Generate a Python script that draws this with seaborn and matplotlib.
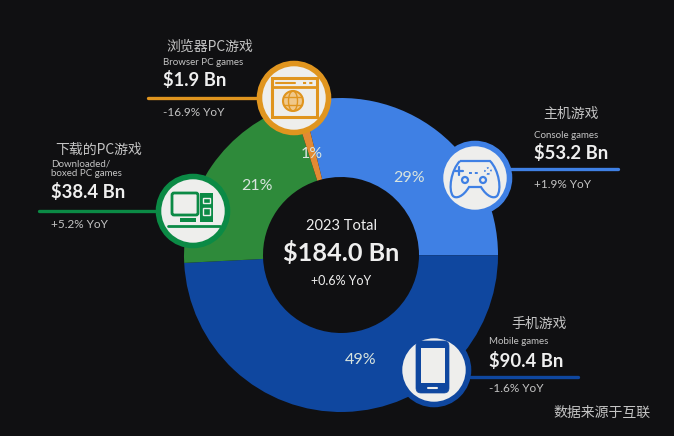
import matplotlib
matplotlib.use('Agg')
import matplotlib.pyplot as plt
from matplotlib.patches import Circle, Rectangle, FancyBboxPatch, Ellipse, PathPatch
from matplotlib.path import Path
import seaborn as sns

# Données du graphique
segments_en = ['Console games', 'Mobile games', 'Downloaded/\nboxed PC games', 'Browser PC games']
segments_zh = ['主机游戏', '手机游戏', '下载的PC游戏', '浏览器PC游戏']
revenus = [53.2, 90.4, 38.4, 1.9]
revenus_txt = ['$53.2 Bn', '$90.4 Bn', '$38.4 Bn', '$1.9 Bn']
yoy_txt = ['+1.9% YoY', '-1.6% YoY', '+5.2% YoY', '-16.9% YoY']
parts_txt = ['29%', '49%', '21%', '1%']
total_titre = '2023 Total'
total_txt = '$184.0 Bn'
total_yoy = '+0.6% YoY'
source_txt = '数据来源于互联'
couleurs = ['#3f80e4', '#0f479f', '#2e8a3a', '#e38a33']
couleurs_icone = ['#3f80e4', '#0f479f', '#0b8a45', '#e0951f']

FOND = '#101012'
BLANC = '#efefef'
GRIS = '#c4c4c4'
ICONE = '#eeeeec'

sns.set_theme(style='dark', rc={'figure.facecolor': FOND, 'axes.facecolor': FOND})
plt.rcParams['font.family'] = ['Lato', 'Noto Sans CJK SC', 'DejaVu Sans']

fig = plt.figure(figsize=(6.74, 4.36), dpi=100)
ax = fig.add_axes([0, 0, 1, 1])


def Y(y):
    # coordonnées image -> axes
    return 436 - y


# ----------------------- Donut ------------------------
ax.pie(revenus, colors=couleurs, startangle=104, counterclock=False,
       center=(341, Y(255)), radius=157, frame=True,
       wedgeprops={'width': 79, 'linewidth': 0})
ax.set_xlim(0, 674)
ax.set_ylim(0, 436)
ax.set_aspect('equal')
ax.set_xticks([])
ax.set_yticks([])
for s in ax.spines.values():
    s.set_visible(False)

# Pourcentages sur l'anneau
pos_parts = [(409, 178), (361, 360), (257, 186), (312, 154)]
for txt, (x, y) in zip(parts_txt, pos_parts):
    ax.text(x, Y(y), txt, color='#d8e4de', fontsize=11.5, ha='center', va='center')

# Centre
ax.text(341, Y(226), total_titre, color=BLANC, fontsize=10.5, ha='center', va='center')
ax.text(341, Y(253), total_txt, color=BLANC, fontsize=18.2, fontweight='bold', ha='center', va='center')
ax.text(341, Y(281), total_yoy, color=BLANC, fontsize=9, ha='center', va='center')

# ----------------------- Traits de rappel ------------------------
traits = [(508, 618, 169), (470, 578, 377), (39, 158, 211), (148, 260, 98)]
for (x0, x1, y), c in zip(traits, couleurs_icone):
    ax.plot([x0, x1], [Y(y), Y(y)], color=c, lw=2.4, solid_capstyle='round', zorder=2)

# ----------------------- Cercles des icônes ------------------------
centres = [(475, 178), (434, 370), (193, 211), (294, 98)]
for (x, y), c in zip(centres, couleurs_icone):
    ax.add_patch(Circle((x, Y(y)), 34.5, fc=ICONE, ec=c, lw=4, zorder=3))

# Manette
c = couleurs_icone[0]
M, L, C = Path.MOVETO, Path.LINETO, Path.CURVE4
pts = [(460, 161), (490, 161), (499, 170), (502, 190), (497, 196), (494, 199), (487, 197), (481, 187),
       (469, 187), (463, 197), (456, 199), (453, 196), (448, 190), (451, 170), (460, 161)]
codes = [M, L, C, C, C, C, C, C, L, C, C, C, C, C, C]
ax.add_patch(PathPatch(Path([(x, Y(y)) for x, y in pts], codes), fc='none', ec=c, lw=1.6, zorder=5))
ax.add_patch(Circle((465, Y(180)), 3, fc='none', ec=c, lw=1.6, zorder=5))
ax.add_patch(Circle((483, Y(180)), 3, fc='none', ec=c, lw=1.6, zorder=5))
ax.plot([455, 463], [Y(171), Y(171)], color=c, lw=1.6, zorder=5)
ax.plot([459, 459], [Y(167), Y(175)], color=c, lw=1.6, zorder=5)
ax.plot([469, 479], [Y(173), Y(173)], color=c, lw=1.4, ls=(0, (1.5, 1.5)), zorder=5)
ax.add_patch(Circle((488, Y(171)), 3, fc='none', ec=c, lw=1.2, ls=':', zorder=5))

# Téléphone
c = couleurs_icone[1]
ax.add_patch(FancyBboxPatch((416, Y(393)), 33, 52, boxstyle='round,pad=0,rounding_size=5',
                            fc=c, ec=c, lw=0.5, zorder=4))
ax.add_patch(Rectangle((421, Y(383)), 24, 35, fc=ICONE, ec='none', zorder=5))
ax.plot([428, 437], [Y(388), Y(388)], color=ICONE, lw=1.5, zorder=5)

# Ordinateur
c = couleurs_icone[2]
ax.add_patch(FancyBboxPatch((172, Y(215)), 26, 22, boxstyle='round,pad=0,rounding_size=2',
                            fc='none', ec=c, lw=2, zorder=4))
ax.add_patch(Rectangle((200, Y(222)), 13, 29, fc=c, ec='none', zorder=4))
ax.add_patch(Rectangle((203, Y(203)), 7, 5, fc='none', ec=ICONE, lw=1, zorder=5))
ax.add_patch(Rectangle((203, Y(215)), 7, 7, fc='none', ec=ICONE, lw=1, zorder=5))
ax.add_patch(Rectangle((180, Y(222)), 16, 4, fc=c, ec='none', zorder=4))
ax.plot([168, 220], [Y(226), Y(226)], color=c, lw=2, zorder=4)

# Navigateur
c = couleurs_icone[3]
ax.add_patch(Rectangle((272, Y(117)), 45, 39, fc='none', ec=c, lw=2.2, zorder=4))
ax.plot([272, 317], [Y(87), Y(87)], color=c, lw=2, zorder=4)
ax.plot([276, 295], [Y(83), Y(83)], color=c, lw=1.5, zorder=4)
ax.plot([303, 313], [Y(83), Y(83)], color=c, lw=1.5, ls=(0, (1.5, 1.5)), zorder=4)
ax.add_patch(Circle((293, Y(101)), 10, fc='#f0c88a', ec=c, lw=1.5, zorder=4))
ax.add_patch(Ellipse((293, Y(101)), 9, 20, fc='none', ec=c, lw=1, zorder=4))
for yy in (97, 105):
    ax.plot([284, 302], [Y(yy), Y(yy)], color=c, lw=1, zorder=4)

# ----------------------- Étiquettes ------------------------
# zh, en, valeur, yoy : (x, y) en pixels image
etiquettes = [
    ((571, 114), (534, 135), (534, 153), (534, 184)),
    ((539, 324), (489, 342), (489, 361), (489, 389)),
    ((99, 150), (51, 169), (51, 192), (51, 224)),
    ((210, 47), (163, 62), (163, 80), (163, 112)),
]
for i, (p_zh, p_en, p_val, p_yoy) in enumerate(etiquettes):
    ax.text(p_zh[0], Y(p_zh[1]), segments_zh[i], color=GRIS, fontsize=10, ha='center', va='center',
            family=['Noto Sans CJK SC', 'DejaVu Sans'])
    ax.text(p_en[0], Y(p_en[1]), segments_en[i], color=GRIS, fontsize=7, ha='left', va='center',
            linespacing=1.05)
    ax.text(p_val[0], Y(p_val[1]), revenus_txt[i], color=BLANC, fontsize=13.3,
            fontweight='bold', ha='left', va='center')
    ax.text(p_yoy[0], Y(p_yoy[1]), yoy_txt[i], color=GRIS, fontsize=8.5, ha='left', va='center')

ax.text(553, Y(413), source_txt, color=GRIS, fontsize=10, ha='left', va='center',
        family=['Noto Sans CJK SC', 'DejaVu Sans'])

fig.savefig('out.png', dpi=100, facecolor=FOND)
